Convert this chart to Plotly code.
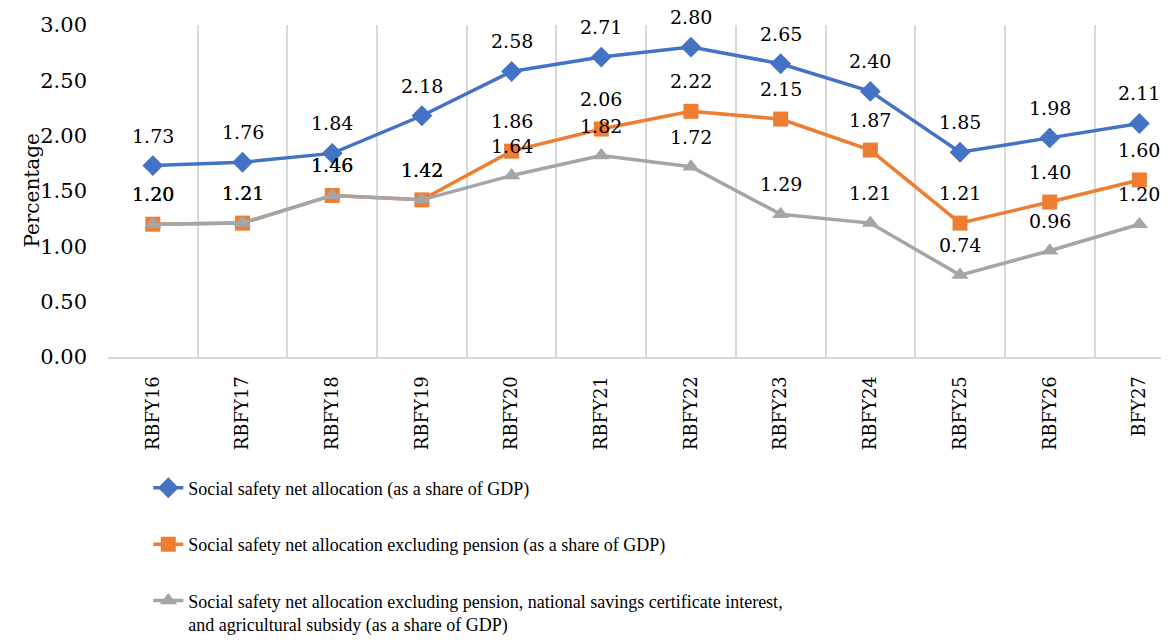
import plotly.graph_objects as go

categories = ["RBFY16", "RBFY17", "RBFY18", "RBFY19", "RBFY20", "RBFY21",
              "RBFY22", "RBFY23", "RBFY24", "RBFY25", "RBFY26", "BFY27"]
ssn_total = [1.73, 1.76, 1.84, 2.18, 2.58, 2.71, 2.80, 2.65, 2.40, 1.85, 1.98, 2.11]
ssn_ex_pension = [1.20, 1.21, 1.46, 1.42, 1.86, 2.06, 2.22, 2.15, 1.87, 1.21, 1.40, 1.60]
ssn_ex_all = [1.20, 1.21, 1.46, 1.42, 1.64, 1.82, 1.72, 1.29, 1.21, 0.74, 0.96, 1.20]

names = [
    "Social safety net allocation (as a share of GDP)",
    "Social safety net allocation excluding pension (as a share of GDP)",
    "Social safety net allocation excluding pension, national savings certificate interest,<br>and agricultural subsidy (as a share of GDP)",
]
colors = ["#4472C4", "#ED7D31", "#A5A5A5"]
symbols = ["diamond", "square", "triangle-up"]
msizes = [16, 15, 15]
series = [ssn_total, ssn_ex_pension, ssn_ex_all]

NUMFONT = "DejaVu Serif, Georgia, serif"
LEGFONT = "Liberation Serif, Times New Roman, serif"

fig = go.Figure()
xs = list(range(len(categories)))
for i, (vals, nm, c, s, ms) in enumerate(zip(series, names, colors, symbols, msizes)):
    fig.add_trace(go.Scatter(
        x=xs, y=vals, mode="lines+markers", name=nm,
        line=dict(color=c, width=3.5),
        marker=dict(symbol=s, size=ms, color=c),
        legendgroup=f"g{i}",
    ))
    for x, v in zip(xs, vals):
        fig.add_annotation(x=x, y=v, text=f"{v:.2f}", showarrow=False,
                           yshift=30, font=dict(family=NUMFONT, size=19, color="#000000"))

fig.add_annotation(xref="paper", yref="paper", x=-0.072, y=0.5, text="Percentage",
                   textangle=-90, showarrow=False, xanchor="center", yanchor="middle",
                   font=dict(family=NUMFONT, size=20, color="#000000"))

fig.update_layout(
    width=1169, height=642,
    margin=dict(l=100, r=8, t=17, b=293, autoexpand=False),
    paper_bgcolor="white", plot_bgcolor="white",
    font=dict(family=NUMFONT, color="#000000"),
    showlegend=True,
    legend=dict(orientation="v", x=0.038, y=-0.339, xanchor="left", yanchor="top",
                font=dict(family=LEGFONT, size=18, color="#000000"),
                tracegroupgap=30, valign="top", bgcolor="rgba(0,0,0,0)"),
)
fig.update_xaxes(
    range=[-0.5, 11.33], tickmode="array", tickvals=xs, ticktext=categories,
    tickangle=-90, showgrid=False, zeroline=False,
    showline=True, linecolor="#d9d9d9", linewidth=2,
    ticks="", ticklabelstandoff=10, automargin=False,
    tickfont=dict(family=NUMFONT, size=18, color="#000000"),
    minor=dict(tick0=-0.5, dtick=1, showgrid=True, gridcolor="#d9d9d9", gridwidth=2),
)
fig.update_yaxes(
    range=[0, 3], dtick=0.5, tick0=0, tickformat=".2f",
    showgrid=False, zeroline=False, showline=False, ticks="",
    ticklabelstandoff=20, automargin=False,
    tickfont=dict(family=NUMFONT, size=21, color="#000000"),
)
fig.write_html("out.html")
